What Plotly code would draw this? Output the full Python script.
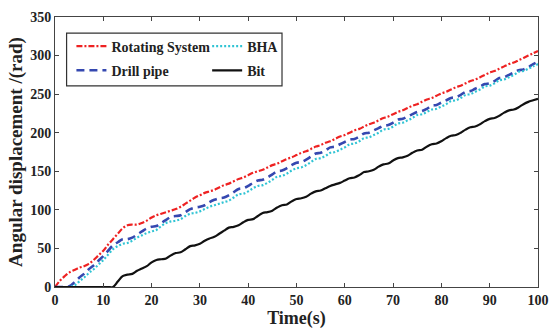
import plotly.graph_objects as go

time_s = list(range(0, 101))

rotating_system = [0, 8, 14, 19, 22, 25, 27, 30, 35, 41, 47, 55, 62, 69, 76, 80, 81, 81, 83, 86,
                   90, 93, 95, 97, 99, 101, 104, 108, 112, 116, 119, 122, 124, 126, 129, 132, 134, 137, 140, 142,
                   145, 148, 150, 152, 155, 158, 160, 163, 166, 168, 171, 174, 176, 179, 182, 184, 187, 189, 192, 195,
                   197, 200, 203, 205, 208, 211, 213, 216, 219, 221, 224, 227, 229, 232, 235, 237, 240, 243, 245, 248,
                   251, 253, 256, 259, 261, 264, 267, 269, 272, 275, 278, 280, 283, 286, 289, 291, 294, 297, 300, 303,
                   306]

drill_pipe = [0, 0, 0, 1, 6, 12, 17, 23, 28, 34, 40, 47, 54, 58, 62, 62, 64, 68, 72, 76,
              78, 79, 83, 87, 91, 92, 93, 97, 101, 103, 104, 106, 110, 113, 115, 116, 119, 123, 127, 128,
              131, 135, 138, 139, 142, 146, 150, 151, 154, 158, 161, 162, 165, 169, 173, 174, 177, 181, 182, 185,
              188, 191, 192, 195, 199, 200, 203, 206, 209, 210, 213, 217, 218, 221, 224, 227, 228, 231, 235, 236,
              239, 242, 245, 246, 249, 253, 254, 257, 260, 263, 264, 267, 271, 272, 275, 278, 281, 282, 285, 289,
              292]

bha = [0, 0, 0, 0, 2, 7, 12, 18, 23, 29, 35, 42, 49, 53, 56, 57, 60, 64, 67, 70,
       72, 74, 79, 83, 85, 86, 88, 92, 95, 96, 98, 101, 104, 106, 108, 110, 112, 116, 120, 121,
       124, 128, 131, 132, 135, 139, 143, 144, 147, 151, 154, 155, 158, 162, 166, 167, 170, 174, 175, 178,
       181, 185, 186, 189, 193, 194, 197, 200, 204, 205, 208, 212, 213, 216, 219, 223, 224, 227, 230, 231,
       234, 237, 241, 242, 245, 249, 250, 253, 256, 260, 261, 264, 268, 269, 272, 275, 279, 280, 283, 286,
       289]

bit = [0, 0, 0, 0, 0, 0, 0, 0, 0, 0, 0, 0, 0, 7, 14, 16, 17, 21, 24, 27,
       32, 35, 36, 37, 41, 44, 45, 49, 53, 54, 56, 60, 63, 65, 69, 73, 77, 78, 80, 84,
       87, 88, 92, 96, 97, 99, 103, 106, 107, 111, 114, 115, 117, 121, 124, 125, 128, 131, 133, 135,
       138, 141, 142, 145, 149, 150, 152, 156, 159, 160, 164, 167, 168, 170, 174, 177, 178, 182, 185, 186,
       189, 193, 196, 197, 200, 204, 207, 208, 211, 215, 218, 219, 222, 226, 229, 230, 233, 237, 240, 242,
       244]

x_ticks = [0, 10, 20, 30, 40, 50, 60, 70, 80, 90, 100]
y_ticks = [0, 50, 100, 150, 200, 250, 300, 350]

FONT = "Liberation Serif"

fig = go.Figure()
fig.add_trace(go.Scatter(x=time_s, y=rotating_system, name="<b>Rotating System</b>", mode="lines",
                         line=dict(color="#ee2222", width=2.2, dash="6px,2px,2px,2px", shape="spline"),
                         legend="legend", legendgroup="a"))
fig.add_trace(go.Scatter(x=time_s, y=drill_pipe, name="<b>Drill pipe</b>", mode="lines",
                         line=dict(color="#3548b0", width=2.6, dash="8px,5px", shape="spline"),
                         legend="legend", legendgroup="b"))
fig.add_trace(go.Scatter(x=time_s, y=bha, name="<b>BHA</b>", mode="lines",
                         line=dict(color="#30c4d4", width=2.2, dash="2px,2px", shape="spline"),
                         legend="legend2", legendgroup="c"))
fig.add_trace(go.Scatter(x=time_s, y=bit, name="<b>Bit</b>", mode="lines",
                         line=dict(color="#111111", width=2.2, shape="spline"),
                         legend="legend2", legendgroup="d"))

axis_common = dict(showline=True, linecolor="#444444", linewidth=1, mirror="ticks",
                   ticks="inside", ticklen=4, tickcolor="#444444", showgrid=False, zeroline=False,
                   tickfont=dict(family=FONT, size=14, color="#222222"))

fig.update_layout(
    width=559, height=333,
    margin=dict(l=55, r=10, t=15, b=46),
    paper_bgcolor="white", plot_bgcolor="white",
    font=dict(family=FONT, color="#222222"),
    xaxis=dict(range=[0, 100], tickvals=x_ticks,
               ticktext=[f"<b>{v}</b>" for v in x_ticks],
               title=dict(text="<b>Time(s)</b>", font=dict(family=FONT, size=18), standoff=3),
               **axis_common),
    yaxis=dict(range=[0, 350], tickvals=y_ticks,
               ticktext=[f"<b>{v}</b>" for v in y_ticks],
               title=dict(text="<b>Angular displacement /(rad)</b>", font=dict(family=FONT, size=19), standoff=2),
               **axis_common),
    legend=dict(x=0.034, y=0.95, xanchor="left", yanchor="top", bgcolor="rgba(0,0,0,0)",
                font=dict(family=FONT, size=14, color="#222222"), itemwidth=30,
                tracegroupgap=3, traceorder="grouped"),
    legend2=dict(x=0.315, y=0.95, xanchor="left", yanchor="top", bgcolor="rgba(0,0,0,0)",
                 font=dict(family=FONT, size=14, color="#222222"), itemwidth=30,
                 tracegroupgap=3, traceorder="grouped"),
    shapes=[dict(type="rect", xref="paper", yref="paper", x0=0.024, x1=0.47, y0=0.745, y1=0.94,
                 line=dict(color="#333333", width=1.2), fillcolor="rgba(0,0,0,0)")],
    showlegend=True,
)

fig.write_html("out.html")
